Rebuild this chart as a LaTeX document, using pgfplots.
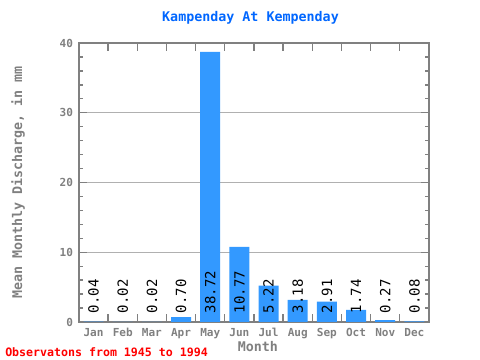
\documentclass[border=0pt]{standalone}
\usepackage{pgfplots}
\pgfplotsset{compat=1.18}
\usepackage{fontspec}
\setmainfont{DejaVu Sans Mono}
\setmonofont{DejaVu Sans Mono}
\definecolor{barblue}{HTML}{3399FF}
\definecolor{titleblue}{HTML}{0066FF}
\definecolor{axgray}{HTML}{808080}
\definecolor{gridgray}{HTML}{B0B0B0}
\begin{document}
\begin{tikzpicture}
\path[use as bounding box] (-59.25pt,-28.5pt) rectangle (300.75pt,241.5pt);
\begin{axis}[
  at={(0,0)}, anchor=south west,
  scale only axis,
  width=262.5pt, height=209.25pt,
  xmin=-0.5, xmax=11.5, ymin=0, ymax=40,
  axis line style={axgray, line width=1.3pt},
  xtick={-0.5,0.5,...,11.5},
  xticklabels={},
  extra x ticks={0,...,11},
  extra x tick labels={Jan,Feb,Mar,Apr,May,Jun,Jul,Aug,Sep,Oct,Nov,Dec},
  extra x tick style={tick style={draw=none}},
  ytick={0,10,20,30,40},
  minor ytick={2,4,...,38},
  tick style={axgray, line width=1pt},
  xtick pos=both, ytick pos=both,
  tick align=inside,
  major tick length=6pt,
  minor tick length=3pt,
  ymajorgrids,
  major grid style={gridgray, line width=0.6pt},
  /pgf/number format/assume math mode=true,
  ticklabel style={font=\bfseries\fontsize{8.3}{10}\selectfont, text=axgray},
  xticklabel style={yshift=-1pt},
  yticklabel style={xshift=-1pt},
  xlabel={Month},
  ylabel={Mean Monthly Discharge, in mm},
  label style={font=\bfseries\fontsize{10}{12}\selectfont, text=axgray},
  xlabel style={at={(axis description cs:0.511,0)}, anchor=center, yshift=-18.75pt},
  ylabel style={at={(axis description cs:-0.1743,0.5)}, anchor=center},
  clip=false,
]
\addplot[ybar, bar width=15pt, bar shift=0pt, fill=barblue, draw=none]
  coordinates {(0,0.04) (1,0.02) (2,0.02) (3,0.70) (4,38.72) (5,10.77) (6,5.22) (7,3.18) (8,2.91) (9,1.74) (10,0.27) (11,0.08)};
\addplot[only marks, mark=none, point meta=explicit symbolic, nodes near coords,
  nodes near coords style={rotate=90, anchor=west, inner sep=0pt, font=\fontsize{10.5}{12}\selectfont, text=black}]
  coordinates {(0,1.25) [0.04] (1,1.25) [0.02] (2,1.25) [0.02] (3,1.25) [0.70] (4,1.25) [38.72] (5,1.25) [10.77] (6,1.25) [5.22] (7,1.25) [3.18] (8,1.25) [2.91] (9,1.25) [1.74] (10,1.25) [0.27] (11,1.25) [0.08]};
\node[font=\bfseries\fontsize{10}{12}\selectfont, text=titleblue] at (axis description cs:0.49,1.09) {Kampenday At Kempenday};
\node[font=\bfseries\fontsize{8.7}{10}\selectfont, text=red, anchor=west, inner sep=0pt] at ([xshift=-55.5pt,yshift=-22.5pt]axis description cs:0,0) {Observatons from 1945 to 1994};
\end{axis}
\end{tikzpicture}
\end{document}
